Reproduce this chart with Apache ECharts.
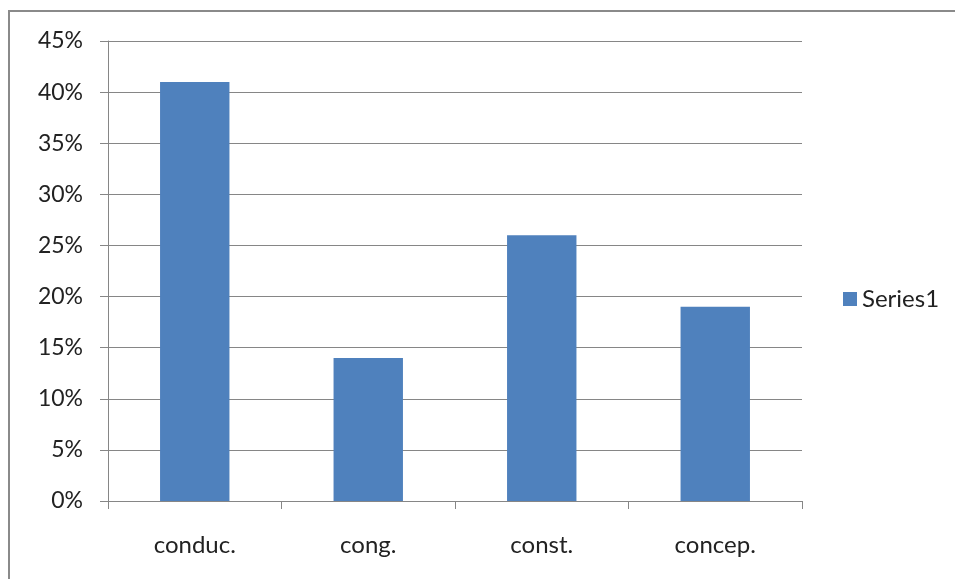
<!DOCTYPE html>
<html>
<head>
<meta charset="utf-8">
<script src="https://cdn.jsdelivr.net/npm/echarts@6/dist/echarts.min.js"></script>
<style>
  html, body { margin: 0; padding: 0; background: #fff; overflow: hidden; }
  #frame { position: absolute; left: 8px; top: 10px; width: 1200px; height: 900px;
           border-left: 2px solid #8a8a8a; border-top: 2px solid #8a8a8a; box-sizing: border-box; }
  #chart { position: absolute; left: 0; top: 0; width: 955px; height: 579px; }
</style>
</head>
<body>
<div id="frame"></div>
<div id="chart"></div>
<script>
const categories = ['conduc.', 'cong.', 'const.', 'concep.'];
const series1Values = [41, 14, 26, 19];
const seriesName = 'Series1';
const yTickMax = 45;
const yTickStep = 5;

const chart = echarts.init(document.getElementById('chart'), null, { renderer: 'canvas' });
const font = 'Lato, "Liberation Sans", sans-serif';
chart.setOption({
  animation: false,
  backgroundColor: 'transparent',
  grid: { left: 108, right: 153, top: 41, bottom: 78, containLabel: false },
  legend: {
    data: [seriesName],
    orient: 'vertical',
    left: 843, top: 287,
    padding: 0,
    itemWidth: 14, itemHeight: 14, itemGap: 8,
    icon: 'rect',
    textStyle: { fontFamily: font, fontSize: 24, color: '#222' }
  },
  xAxis: {
    type: 'category',
    data: categories,
    axisLine: { show: true, lineStyle: { color: '#868686', width: 1 } },
    axisTick: { show: true, length: 8, lineStyle: { color: '#868686' } },
    axisLabel: { fontFamily: font, fontSize: 24, color: '#222', margin: 32 },
    splitLine: { show: false }
  },
  yAxis: {
    type: 'value',
    min: 0, max: yTickMax, interval: yTickStep,
    axisLine: { show: true, lineStyle: { color: '#868686', width: 1 } },
    axisTick: { show: true, length: 8, inside: false, lineStyle: { color: '#868686' } },
    axisLabel: { fontFamily: font, fontSize: 23, color: '#222', margin: 25, formatter: '{value}%' },
    splitLine: { show: true, lineStyle: { color: '#868686', width: 1 } }
  },
  series: [{
    name: seriesName,
    type: 'bar',
    data: series1Values,
    barWidth: '40%',
    itemStyle: { color: '#4F81BD' }
  }]
});
</script>
</body>
</html>
